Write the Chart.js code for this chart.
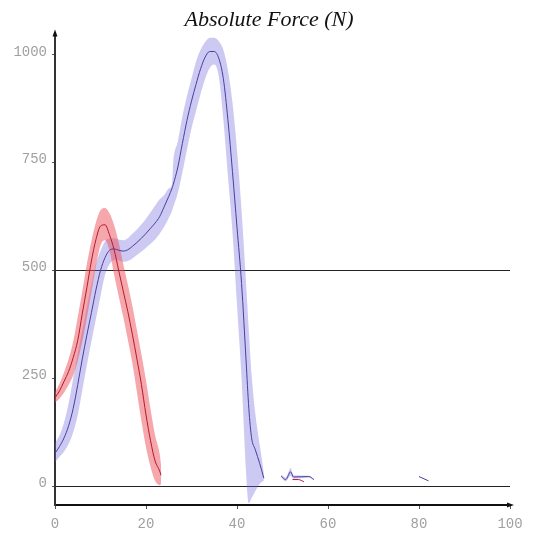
<!DOCTYPE html>
<html>
<head>
<meta charset="utf-8">
<script src="https://cdn.jsdelivr.net/npm/chart.js@4/dist/chart.umd.min.js"></script>
<style>
  html, body { margin: 0; padding: 0; background: #ffffff; }
  #wrap { width: 533px; height: 536px; }
</style>
</head>
<body>
<div id="wrap"><canvas id="c" width="533" height="536"></canvas></div>
<script>
// Force curves (N) against % of contact time, mean with ± band
const yTicks = [0, 250, 500, 750, 1000];

const redX    = [0, 1, 2, 3, 4, 5, 6, 7, 8, 9, 10, 11, 12, 13, 14, 15, 16, 17, 18, 19, 20, 21, 22, 23, 23.3];
const redMean = [205, 221, 243, 266, 298, 338, 400, 460, 522, 572, 603, 606, 582, 548, 500, 452, 405, 352, 295, 235, 165, 105, 58, 35, 25];
const redHigh = [218, 238, 264, 295, 335, 392, 452, 515, 568, 612, 640, 645, 632, 605, 565, 515, 468, 418, 362, 305, 245, 178, 118, 75, 50];
const redLow  = [193, 203, 217, 235, 257, 290, 335, 390, 450, 510, 558, 570, 545, 490, 440, 392, 340, 285, 218, 150, 90, 45, 12, 2, 5];

const blueX    = [0, 1, 2, 3, 4, 5, 6, 7, 8, 9, 10, 11, 12, 13, 14, 15, 16, 17, 18, 19, 20, 21, 22, 23, 24, 25, 25.7, 26, 27, 28, 29, 30, 31, 32, 33, 34, 35, 36, 37, 38, 39, 40, 41, 42, 42.6, 43.2, 44, 45, 45.9];
const blueMean = [76, 92, 112, 140, 180, 235, 295, 350, 402, 455, 500, 530, 547, 550, 547, 545, 548, 556, 565, 575, 586, 598, 610, 625, 648, 672, 690, 700, 740, 795, 848, 893, 932, 968, 995, 1008, 1008, 992, 945, 850, 730, 600, 470, 290, 180, 112, 85, 52, 18];
const blueHigh = [100, 118, 148, 192, 250, 308, 362, 415, 468, 515, 545, 568, 575, 575, 572, 570, 575, 585, 595, 607, 620, 635, 650, 665, 675, 690, 700, 752, 800, 858, 905, 945, 985, 1012, 1030, 1040, 1040, 1032, 1012, 965, 890, 780, 640, 470, 360, 260, 170, 95, 30];
const blueLow  = [55, 68, 80, 98, 125, 165, 222, 280, 335, 388, 440, 490, 515, 524, 523, 520, 522, 528, 536, 544, 553, 562, 572, 585, 602, 622, 638, 648, 680, 728, 780, 830, 870, 910, 945, 970, 978, 950, 850, 720, 590, 420, 250, 30, -40, -28, -12, 5, 12];

// short late traces
const blueTailX    = [49.7, 50.7, 51.8, 52.4, 55.8, 56.9];
const blueTailMean = [23, 15, 33, 21, 22, 15];
const blueTailHigh = [27, 20, 42, 25, 24, 17];
const blueTailLow  = [20, 11, 24, 17, 20, 13];
const redTailX     = [52.2, 53.5, 54.7];
const redTailMean  = [15, 15, 10];
const blueLateX    = [80, 82.1];
const blueLateMean = [22, 12];

const pts = (xs, ys) => xs.map((x, i) => ({ x: x, y: ys[i] }));

const RED_LINE = '#b3192f';
const RED_BAND = 'rgba(238, 80, 90, 0.5)';
const BLUE_LINE = '#4a3f9e';
const BLUE_BAND = 'rgba(110, 100, 220, 0.35)';

function band(data, extra) {
  return Object.assign({
    data: data, borderWidth: 0, pointRadius: 0, borderColor: 'transparent',
    cubicInterpolationMode: 'monotone', fill: false
  }, extra);
}
function line(data, color, order) {
  return {
    data: data, borderColor: color, borderWidth: 1, pointRadius: 0,
    cubicInterpolationMode: 'monotone', fill: false, order: order
  };
}

const datasets = [
  band(pts(blueX, blueLow),  { order: 8 }),                                      // 0
  band(pts(blueX, blueHigh), { order: 7, fill: 0, backgroundColor: BLUE_BAND }), // 1
  band(pts(redX, redLow),    { order: 6 }),                                      // 2
  band(pts(redX, redHigh),   { order: 5, fill: 2, backgroundColor: RED_BAND }),  // 3
  band(pts(blueTailX, blueTailLow),  { order: 9 }),                              // 4
  band(pts(blueTailX, blueTailHigh), { order: 9, fill: 4, backgroundColor: BLUE_BAND }), // 5
  line(pts(blueX, blueMean), BLUE_LINE, 2),
  line(pts(redX, redMean), RED_LINE, 1),
  line(pts(blueTailX, blueTailMean), BLUE_LINE, 2),
  line(pts(redTailX, redTailMean), RED_LINE, 1),
  line(pts(blueLateX, blueLateMean), BLUE_LINE, 2)
];

// arrowheads at the ends of both axes
const axisArrows = {
  id: 'axisArrows',
  afterDraw(chart) {
    const { ctx, chartArea: a } = chart;
    ctx.save();
    ctx.fillStyle = '#111';
    ctx.beginPath();
    ctx.moveTo(a.left, a.top - 4);
    ctx.lineTo(a.left - 2.5, a.top + 3);
    ctx.lineTo(a.left + 2.5, a.top + 3);
    ctx.closePath();
    ctx.fill();
    ctx.beginPath();
    ctx.moveTo(a.right + 4, a.bottom);
    ctx.lineTo(a.right - 3, a.bottom - 2.5);
    ctx.lineTo(a.right - 3, a.bottom + 2.5);
    ctx.closePath();
    ctx.fill();
    ctx.restore();
  }
};

const tickFont = { family: '"Liberation Mono", "DejaVu Sans Mono", monospace', size: 14 };

new Chart(document.getElementById('c'), {
  type: 'line',
  data: { datasets: datasets },
  plugins: [axisArrows],
  options: {
    responsive: false,
    animation: false,
    layout: { padding: { left: 14, right: 9, top: 0, bottom: 0 } },
    plugins: {
      legend: { display: false },
      tooltip: { enabled: false },
      title: {
        display: true,
        text: 'Absolute Force (N)',
        color: '#111',
        font: { family: '"Liberation Serif", "DejaVu Serif", serif', style: 'italic', weight: 'normal', size: 22, lineHeight: 1.2 },
        padding: { top: 7, bottom: 0 }
      }
    },
    scales: {
      x: {
        type: 'linear',
        min: 0, max: 100,
        afterFit(scale) { scale.height = 31; },
        ticks: { stepSize: 20, color: '#a0a0a0', font: tickFont, padding: 7, maxRotation: 0 },
        grid: { drawOnChartArea: false, drawTicks: true, tickLength: 4, tickColor: '#555' },
        border: { display: true, color: '#111', width: 2 }
      },
      y: {
        type: 'linear',
        min: -44, max: 1050,
        afterFit(scale) { scale.width = 41; },
        afterBuildTicks(scale) { scale.ticks = yTicks.map(v => ({ value: v })); },
        ticks: { color: '#a0a0a0', font: tickFont, padding: 5, labelOffset: -3, callback: v => String(v) },
        grid: {
          drawOnChartArea: true, drawTicks: true, tickLength: 3, tickColor: '#555',
          lineWidth: 1,
          color: ctx => (ctx.tick && (ctx.tick.value === 0 || ctx.tick.value === 500)) ? '#222' : 'rgba(0,0,0,0)'
        },
        border: { display: true, color: '#333', width: 2 }
      },
      // empty right-hand strip that keeps the plot clear of the canvas edge
      yRight: {
        type: 'linear',
        position: 'right',
        display: true,
        afterFit(scale) { scale.width = 14; },
        ticks: { display: false },
        grid: { display: false, drawOnChartArea: false },
        border: { display: false }
      }
    }
  }
});
</script>
</body>
</html>
